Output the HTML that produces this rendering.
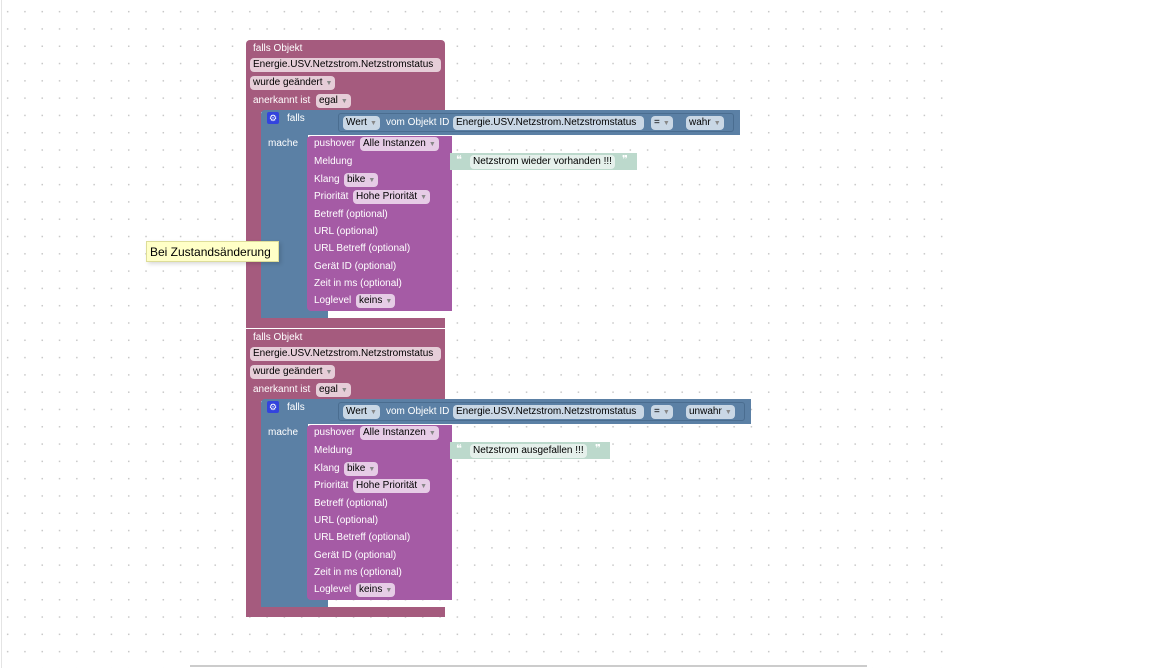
<!DOCTYPE html>
<html><head><meta charset="utf-8"><style>
body{margin:0;width:1152px;height:668px;overflow:hidden;background:#fff;font-family:"Liberation Sans",sans-serif;position:relative}
.grid{position:absolute;left:0;top:0;width:945px;height:668px;background-image:radial-gradient(circle,#c8c8c8 0.8px,transparent 1px);background-size:17.3px 17.3px;background-position:-1px 3px}
.a{position:absolute;box-sizing:border-box}
.ev{background:#a55b7e}
.bl{background:#5b80a5}
.pu{background:#a55ba5}
.t{position:absolute;color:#fff;font-size:10px;white-space:nowrap;line-height:13px}
.f{position:absolute;font-size:10px;color:#000;border-radius:4px;padding:0 3px;line-height:14px;height:14px;white-space:nowrap;box-sizing:border-box}
.fe{background:#e6cdd8}
.fb{background:#c9d7e5}
.fp{background:#e6cce6}
.ar{color:#888;font-size:7px;margin-left:3px}
.tip{position:absolute;left:146px;top:241px;width:133px;height:21px;background:#ffffc7;border:1px solid #dddd99;font-size:12px;line-height:20px;padding-left:3px;box-sizing:border-box;box-shadow:2px 2px 4px rgba(0,0,0,.15)}
</style></head><body>
<div class="grid"></div>
<div class="a" style="left:1px;top:0;width:1px;height:668px;background:#e4e4e4"></div>
<div class="a" style="left:190px;top:665px;width:677px;height:2px;background:#ccc"></div>

<div class="a" style="left:0;top:0;width:800px;height:330px">
 <div class="a ev" style="left:246px;top:40px;width:199px;height:72px;border-radius:4px 4px 0 0"></div>
 <div class="a ev" style="left:246px;top:98px;width:15px;height:230px"></div>
 <div class="a ev" style="left:246px;top:318px;width:199px;height:10px;border-radius:0 0 0 4px"></div>
 <div class="t" style="left:253px;top:42px">falls Objekt</div>
 <div class="f fe" style="left:250px;top:58px;width:191px">Energie.USV.Netzstrom.Netzstromstatus</div>
 <div class="f fe" style="left:250px;top:76px">wurde geändert<span class="ar">▼</span></div>
 <div class="t" style="left:253px;top:94px">anerkannt ist</div>
 <div class="f fe" style="left:316px;top:94px">egal<span class="ar">▼</span></div>
 <div class="a bl" style="left:261px;top:110px;width:479px;height:25px;border-radius:4px 0 0 0"></div>
 <div class="a bl" style="left:261px;top:134px;width:47px;height:184px"></div>
 <div class="a bl" style="left:261px;top:305px;width:67px;height:13px;border-radius:0 0 0 4px"></div>
 <div class="a" style="left:267px;top:112px;width:12px;height:12px;background:#3344dd;border-radius:2px;color:#fff;font-size:9px;text-align:center;line-height:12px">⚙</div>
 <div class="t" style="left:287px;top:112px">falls</div>
 <div class="a" style="left:338px;top:113px;width:396px;height:19px;border:1px solid #4a6d90;border-radius:3px"></div>
 <div class="f fb" style="left:343px;top:116px">Wert<span class="ar">▼</span></div>
 <div class="t" style="left:386px;top:116px">vom Objekt ID</div>
 <div class="f fb" style="left:453px;top:116px;width:191px">Energie.USV.Netzstrom.Netzstromstatus</div>
 <div class="f fb" style="left:651px;top:116px">=<span class="ar">▼</span></div>
 <div class="f fb" style="left:686px;top:116px">wahr<span class="ar">▼</span></div>
 <div class="t" style="left:268px;top:137px">mache</div>
 <div class="a pu" style="left:307px;top:136px;width:145px;height:175px;border-radius:4px 0 0 4px"></div>
 <div class="t" style="left:314px;top:137px">pushover</div>
 <div class="f fp" style="left:360px;top:137px">Alle Instanzen<span class="ar">▼</span></div>
 <div class="t" style="left:314px;top:155px">Meldung</div>
 <div class="t" style="left:314px;top:173px">Klang</div>
 <div class="f fp" style="left:344px;top:173px">bike<span class="ar">▼</span></div>
 <div class="t" style="left:314px;top:190px">Priorität</div>
 <div class="f fp" style="left:353px;top:190px">Hohe Priorität<span class="ar">▼</span></div>
 <div class="t" style="left:314px;top:208px">Betreff (optional)</div>
 <div class="t" style="left:314px;top:225px">URL (optional)</div>
 <div class="t" style="left:314px;top:242px">URL Betreff (optional)</div>
 <div class="t" style="left:314px;top:260px">Gerät ID (optional)</div>
 <div class="t" style="left:314px;top:277px">Zeit in ms (optional)</div>
 <div class="t" style="left:314px;top:294px">Loglevel</div>
 <div class="f fp" style="left:356px;top:294px">keins<span class="ar">▼</span></div>
 <div class="a" style="left:450px;top:153px;width:187px;height:17px;background:#bcd9cc"></div>
 <div class="t" style="left:456px;top:154px;font-size:11px">❝</div>
 <div class="f" style="left:470px;top:155px;background:#e5f0eb">Netzstrom wieder vorhanden !!!</div>
 <div class="t" style="left:622px;top:154px;font-size:11px">❞</div>
</div>

<div class="a" style="left:0;top:289px;width:800px;height:330px">
 <div class="a ev" style="left:246px;top:40px;width:199px;height:72px"></div>
 <div class="a ev" style="left:246px;top:98px;width:15px;height:230px"></div>
 <div class="a ev" style="left:246px;top:318px;width:199px;height:10px;border-radius:0 0 0 4px"></div>
 <div class="t" style="left:253px;top:42px">falls Objekt</div>
 <div class="f fe" style="left:250px;top:58px;width:191px">Energie.USV.Netzstrom.Netzstromstatus</div>
 <div class="f fe" style="left:250px;top:76px">wurde geändert<span class="ar">▼</span></div>
 <div class="t" style="left:253px;top:94px">anerkannt ist</div>
 <div class="f fe" style="left:316px;top:94px">egal<span class="ar">▼</span></div>
 <div class="a bl" style="left:261px;top:110px;width:490px;height:25px;border-radius:4px 0 0 0"></div>
 <div class="a bl" style="left:261px;top:134px;width:47px;height:184px"></div>
 <div class="a bl" style="left:261px;top:305px;width:67px;height:13px;border-radius:0 0 0 4px"></div>
 <div class="a" style="left:267px;top:112px;width:12px;height:12px;background:#3344dd;border-radius:2px;color:#fff;font-size:9px;text-align:center;line-height:12px">⚙</div>
 <div class="t" style="left:287px;top:112px">falls</div>
 <div class="a" style="left:338px;top:113px;width:407px;height:19px;border:1px solid #4a6d90;border-radius:3px"></div>
 <div class="f fb" style="left:343px;top:116px">Wert<span class="ar">▼</span></div>
 <div class="t" style="left:386px;top:116px">vom Objekt ID</div>
 <div class="f fb" style="left:453px;top:116px;width:191px">Energie.USV.Netzstrom.Netzstromstatus</div>
 <div class="f fb" style="left:651px;top:116px">=<span class="ar">▼</span></div>
 <div class="f fb" style="left:686px;top:116px">unwahr<span class="ar">▼</span></div>
 <div class="t" style="left:268px;top:137px">mache</div>
 <div class="a pu" style="left:307px;top:136px;width:145px;height:175px;border-radius:4px 0 0 4px"></div>
 <div class="t" style="left:314px;top:137px">pushover</div>
 <div class="f fp" style="left:360px;top:137px">Alle Instanzen<span class="ar">▼</span></div>
 <div class="t" style="left:314px;top:155px">Meldung</div>
 <div class="t" style="left:314px;top:173px">Klang</div>
 <div class="f fp" style="left:344px;top:173px">bike<span class="ar">▼</span></div>
 <div class="t" style="left:314px;top:190px">Priorität</div>
 <div class="f fp" style="left:353px;top:190px">Hohe Priorität<span class="ar">▼</span></div>
 <div class="t" style="left:314px;top:208px">Betreff (optional)</div>
 <div class="t" style="left:314px;top:225px">URL (optional)</div>
 <div class="t" style="left:314px;top:242px">URL Betreff (optional)</div>
 <div class="t" style="left:314px;top:260px">Gerät ID (optional)</div>
 <div class="t" style="left:314px;top:277px">Zeit in ms (optional)</div>
 <div class="t" style="left:314px;top:294px">Loglevel</div>
 <div class="f fp" style="left:356px;top:294px">keins<span class="ar">▼</span></div>
 <div class="a" style="left:450px;top:153px;width:160px;height:17px;background:#bcd9cc"></div>
 <div class="t" style="left:456px;top:154px;font-size:11px">❝</div>
 <div class="f" style="left:470px;top:155px;background:#e5f0eb">Netzstrom ausgefallen !!!</div>
 <div class="t" style="left:595px;top:154px;font-size:11px">❞</div>
</div>

<div class="tip">Bei Zustandsänderung</div>
</body></html>
